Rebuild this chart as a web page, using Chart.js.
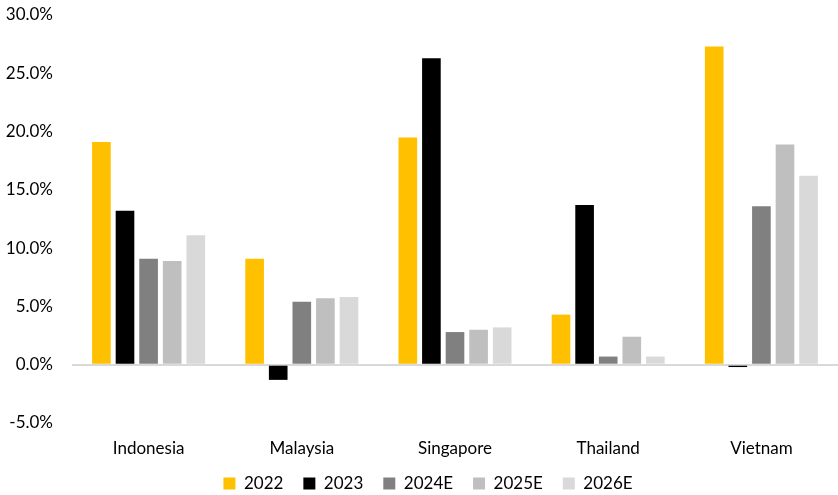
<!DOCTYPE html>
<html>
<head>
<meta charset="utf-8">
<script src="https://cdn.jsdelivr.net/npm/chart.js@4"></script>
<style>
  body { margin: 0; background: #fff; }
  #wrap { width: 838px; height: 495px; }
</style>
</head>
<body>
<div id="wrap"><canvas id="myChart"></canvas></div>
<script>
// data
const countries = ["Indonesia", "Malaysia", "Singapore", "Thailand", "Vietnam"];
const seriesNames = ["2022", "2023", "2024E", "2025E", "2026E"];
const seriesColors = ["#FFC000", "#000000", "#808080", "#BFBFBF", "#D9D9D9"];
const v2022 = [19.1, 9.1, 19.5, 4.3, 27.3];
const v2023 = [13.2, -1.3, 26.3, 13.7, -0.2];
const v2024E = [9.1, 5.4, 2.8, 0.7, 13.6];
const v2025E = [8.9, 5.7, 3.0, 2.4, 18.9];
const v2026E = [11.1, 5.8, 3.2, 0.7, 16.2];
const yTicks = [-5, 0, 5, 10, 15, 20, 25, 30];

const allValues = [v2022, v2023, v2024E, v2025E, v2026E];

let datasets = [];
for (let i = 0; i < seriesNames.length; i++) {
    datasets.push({
        label: seriesNames[i],
        data: allValues[i],
        backgroundColor: seriesColors[i],
        borderWidth: 0,
        categoryPercentage: 0.77,
        barPercentage: 0.79
    });
}

const fontFam = "Lato, 'Open Sans', sans-serif";

// keep the legend short so the plot gets the height,
// and nudge its row (padding also sets the item spacing)
const legendHeight = {
    id: 'legendHeight',
    beforeInit(chart) {
        const legend = chart.legend;
        const origFit = legend.fit;
        legend.fit = function() {
            origFit.call(legend);
            this.height = 36;
        };
        const origDraw = legend._draw;
        legend._draw = function() {
            this.top -= 4;
            this.left += 9;
            this.right += 9;
            origDraw.call(legend);
            this.top += 4;
            this.left -= 9;
            this.right -= 9;
        };
    }
};

const ctx = document.getElementById('myChart');
new Chart(ctx, {
    type: 'bar',
    data: {
        labels: countries,
        datasets: datasets
    },
    plugins: [legendHeight],
    options: {
        responsive: true,
        maintainAspectRatio: false,
        animation: false,
        layout: { padding: { top: 0, right: 0, bottom: 0, left: 0 } },
        plugins: {
            tooltip: { enabled: false },
            legend: {
                position: 'bottom',
                labels: {
                    boxWidth: 12,
                    boxHeight: 12,
                    padding: 20,
                    color: '#000',
                    font: { family: fontFam, size: 17 }
                }
            }
        },
        scales: {
            x: {
                afterFit: function(scale) {
                    scale.height = 36;
                },
                grid: { display: false, drawTicks: false },
                border: { display: false },
                ticks: {
                    padding: 15,
                    color: '#000',
                    font: { family: fontFam, size: 17 }
                }
            },
            y: {
                min: -5,
                max: 30,
                afterBuildTicks: function(scale) {
                    scale.ticks = yTicks.map(function(v) { return { value: v }; });
                },
                afterFit: function(scale) {
                    scale.width = 72;
                    scale.paddingTop = 15;
                    scale.paddingBottom = 0;
                },
                grid: {
                    drawTicks: false,
                    color: function(c) {
                        return c.tick && c.tick.value === 0 ? '#D9D9D9' : 'rgba(0,0,0,0)';
                    },
                    lineWidth: 2
                },
                border: { display: false },
                ticks: {
                    padding: 19,
                    color: '#000',
                    font: { family: fontFam, size: 17 },
                    callback: function(value) {
                        return value.toFixed(1) + '%';
                    }
                }
            }
        }
    }
});
</script>
</body>
</html>
